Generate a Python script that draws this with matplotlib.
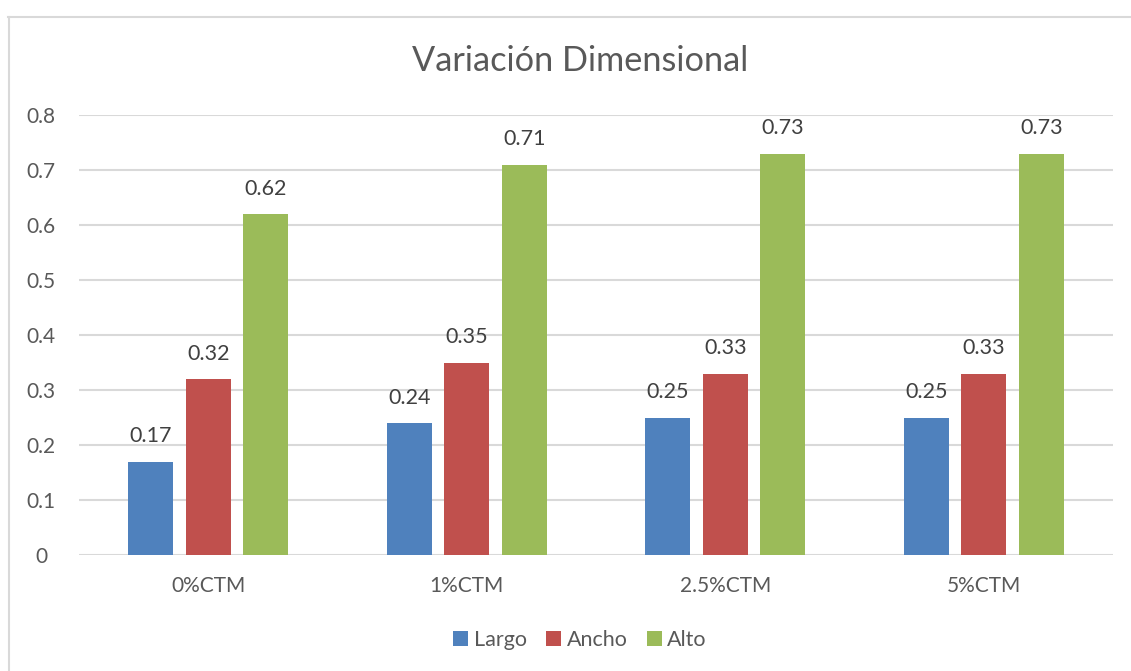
import matplotlib
matplotlib.use("Agg")
import matplotlib.pyplot as plt
from matplotlib.lines import Line2D
from matplotlib.patches import Patch
import numpy as np

categories = ["0%CTM", "1%CTM", "2.5%CTM", "5%CTM"]
largo = [0.17, 0.24, 0.25, 0.25]
ancho = [0.32, 0.35, 0.33, 0.33]
alto = [0.62, 0.71, 0.73, 0.73]
series_names = ["Largo", "Ancho", "Alto"]
y_ticks = [0, 0.1, 0.2, 0.3, 0.4, 0.5, 0.6, 0.7, 0.8]
y_tick_labels = ["0", "0.1", "0.2", "0.3", "0.4", "0.5", "0.6", "0.7", "0.8"]

colors = ["#4f81bd", "#c0504d", "#9bbb59"]
text_color = "#595959"
grid_color = "#d9d9d9"

plt.rcParams["font.family"] = ["Lato", "DejaVu Sans"]

W, H = 1131, 671
fig = plt.figure(figsize=(W / 100, H / 100), dpi=100)
fig.patch.set_facecolor("white")

# chart frame (left and top edges visible)
fig.add_artist(Line2D([8.5 / W, 8.5 / W], [0, 1 - 16.5 / H], color=grid_color, lw=1.5,
                      transform=fig.transFigure))
fig.add_artist(Line2D([8 / W, 1], [1 - 16.5 / H, 1 - 16.5 / H], color=grid_color, lw=1.5,
                      transform=fig.transFigure))

left, right = 79 / W, 1113 / W
bottom, top = 1 - 555 / H, 1 - 115 / H
ax = fig.add_axes([left, bottom, right - left, top - bottom])

x = np.arange(len(categories))
bar_w = 0.174
step = 0.2225
for i, (vals, name) in enumerate(zip([largo, ancho, alto], series_names)):
    pos = x + (i - 1) * step
    ax.bar(pos, vals, width=bar_w, color=colors[i], label=name, zorder=3)
    for xp, v in zip(pos, vals):
        ax.annotate(f"{v:.2f}", (xp, v), xytext=(0, 11), textcoords="offset points",
                    ha="center", va="bottom", fontsize=15.5, color="#404040")

ax.set_xlim(-0.5, len(categories) - 0.5)
ax.set_ylim(0, 0.8)
ax.set_yticks(y_ticks)
ax.set_yticklabels(y_tick_labels)
ax.set_xticks(x)
ax.set_xticklabels(categories)
ax.tick_params(axis="both", length=0, labelsize=15, labelcolor=text_color)
ax.tick_params(axis="x", pad=15)
ax.tick_params(axis="y", pad=27.4)
for lbl in ax.get_yticklabels():
    lbl.set_horizontalalignment("center")
for s in ax.spines.values():
    s.set_visible(False)
ax.grid(axis="y", color=grid_color, lw=1.5, zorder=0)
ax.set_axisbelow(True)

fig.text(580 / W, 1 - 61 / H, "Variación Dimensional", ha="center", va="center",
         fontsize=24.7, color=text_color)

handles = [Patch(facecolor=c, edgecolor="none") for c in colors]
fig.legend(handles, series_names, loc="center", bbox_to_anchor=(580 / W, 1 - 640 / H),
           ncol=3, frameon=False, fontsize=15.5, labelcolor=text_color,
           handlelength=0.7, handleheight=0.7, handletextpad=0.25, columnspacing=0.9)

fig.savefig("out.png", dpi=100, facecolor="white")
